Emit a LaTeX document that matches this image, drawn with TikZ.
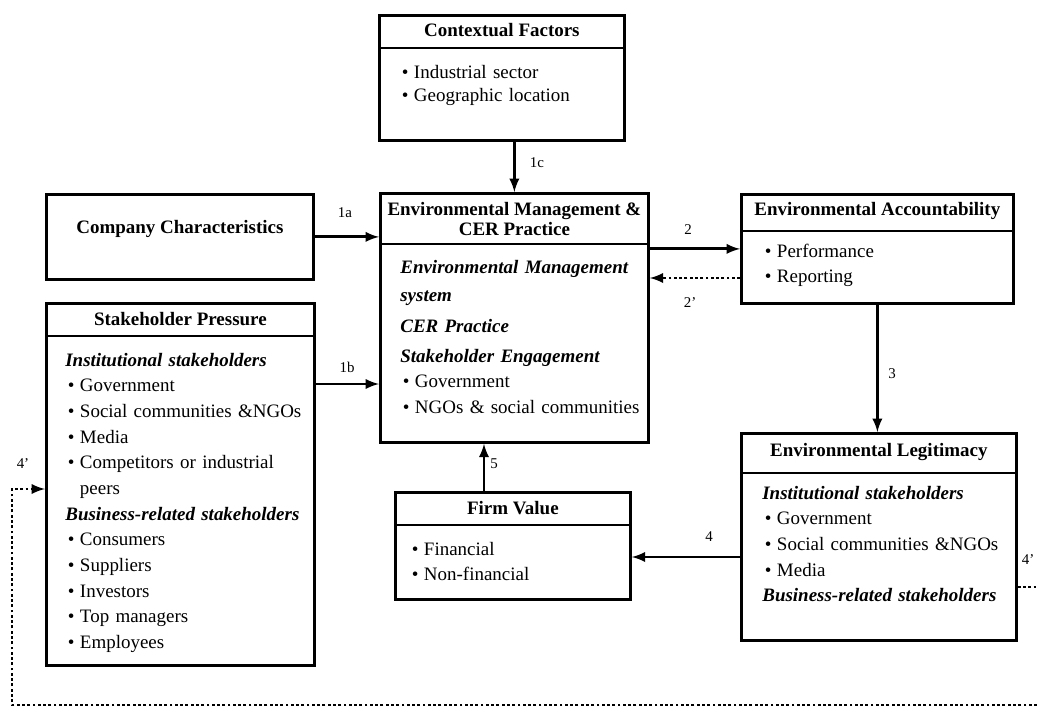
\documentclass[tikz,border=0pt]{standalone}
\usepackage{fontspec}
\setmainfont{Liberation Serif}
\usetikzlibrary{arrows,positioning}
\newcommand{\itm}{\hspace*{1.5pt}\makebox[0.24cm][l]{\textbullet}}
\newcommand{\ind}{\hspace*{1.5pt}\hspace*{0.24cm}}

\begin{document}
\begin{tikzpicture}[x=0.02cm, y=-0.02cm,
    panel/.style={draw, line width=1.6pt, anchor=north west, inner sep=0pt},
    head/.style={font=\fontsize{10.8}{11.5}\selectfont\bfseries, inner sep=0pt, align=center},
    body/.style={anchor=north west, inner sep=0pt, text width=5.2cm, align=left, font=\fontsize{10.8}{#1}\selectfont},
    rule/.style={line width=1pt},
    flow/.style={->, >=latex, line width=1.6pt},
    back/.style={->, >=latex, line width=1.6pt, dash pattern=on 1.6pt off 1.4pt},
    num/.style={font=\fontsize{8.5}{9}\selectfont, inner sep=0pt}]

\useasboundingbox (0,0) rectangle (1037,707);

%============ boxes
\node[panel, minimum width=4.9cm, minimum height=2.5cm] (ctx) at (378,14) {};
\node[panel, minimum width=5.36cm, minimum height=4.98cm] (emp) at (379,192) {};
\node[panel, minimum width=5.34cm, minimum height=1.7cm] (comp) at (45,193) {};
\node[panel, minimum width=5.36cm, minimum height=7.24cm] (shp) at (45,302) {};
\node[panel, minimum width=5.44cm, minimum height=2.18cm] (acc) at (740,193) {};
\node[panel, minimum width=5.5cm, minimum height=4.14cm] (leg) at (740,432) {};
\node[panel, minimum width=4.7cm, minimum height=2.14cm] (firm) at (394,491) {};

%============ titles
\node[head] (ctxt) at (ctx.north |- 0,30) {Contextual Factors};
\node[head] (empt) at (emp.north |- 0,219) {Environmental Management \&\\CER Practice};
\node[head] (compt) at (comp.north |- 0,229) {Company Characteristics};
\node[head] (shpt) at (shp.north |- 0,319) {Stakeholder Pressure};
\node[head] (acct) at (acc.north |- 0,211) {Environmental Accountability};
\node[head] (legt) at (leg.north |- 0,452) {Environmental Legitimacy};
\node[head] (firmt) at (firm.north |- 0,508) {Firm Value};

\draw[rule] (ctx.west |- 0,48) -- (ctx.east |- 0,48);
\draw[rule] (emp.west |- 0,244) -- (emp.east |- 0,244);
\draw[rule] (shp.west |- 0,336) -- (shp.east |- 0,336);
\draw[rule] (acc.west |- 0,231) -- (acc.east |- 0,231);
\draw[rule] (leg.west |- 0,473) -- (leg.east |- 0,473);
\draw[rule] (firm.west |- 0,525) -- (firm.east |- 0,525);

%============ contents
\node[body=13pt] (ctxb) at (399,62) {\strut\itm Industrial sector\\ \itm Geographic location};
\node[body=14.4pt] (empb) at (400,255) {\strut{\bfseries\itshape Environmental Management\\[1.5pt] system\\[3.7pt] CER Practice\\[2.6pt] Stakeholder Engagement}\\
  \itm Government\\ \itm NGOs \& social communities};
\node[body=14.6pt] (shpb) at (65,348) {\strut{\bfseries\itshape Institutional stakeholders}\\
  \itm Government\\ \itm Social communities \&NGOs\\ \itm Media\\ \itm Competitors or industrial\\ \ind peers\\
  {\bfseries\itshape Business-related stakeholders}\\
  \itm Consumers\\ \itm Suppliers\\ \itm Investors\\ \itm Top managers\\ \itm Employees};
\node[body=14.2pt] (accb) at (762,240) {\strut\itm Performance\\ \itm Reporting};
\node[body=14.6pt] (legb) at (762,481) {\strut{\bfseries\itshape Institutional stakeholders}\\
  \itm Government\\ \itm Social communities \&NGOs\\ \itm Media\\
  {\bfseries\itshape Business-related stakeholders}};
\node[body=14.6pt] (firmb) at (409,537) {\strut\itm Financial\\ \itm Non-financial};

%============ links
\draw[flow] (ctx.south -| emp.north) -- (emp.north);
\node[num] (l1c) at (537,163) {1c};
\draw[flow] (comp.east) -- (comp.east -| emp.west);
\node[num] (l1a) at (345,213) {1a};
\draw[flow] (shp.east |- 0,384) -- (emp.west |- 0,384);
\node[num] (l1b) at (347,367) {1b};
\draw[flow] (emp.east |- acc.west) -- (acc.west);
\node[num] (l2) at (688,230) {2};
\draw[back] (acc.west |- 0,278) -- (emp.east |- 0,278);
\node[num] (l2b) at (690,303) {2'};
\draw[flow] (acc.south) -- (acc.south |- leg.north);
\node[num] (l3) at (892,374) {3};
\draw[flow] (leg.west |- 0,557) -- (firm.east |- 0,557);
\node[num] (l4) at (709,537) {4};
\draw[flow] (firm.north -| 484,0) -- (emp.south -| 484,0);
\node[num] (l5) at (494,464) {5};
\draw[back] (leg.east |- 0,587) -- (1050,587) -- (1050,705) -- (12,705) -- (12,489) -- (shp.west |- 0,489);
\node[num] (l4r) at (1028,560) {4'};
\node[num] (l4l) at (23,464) {4'};

\end{tikzpicture}
\end{document}
